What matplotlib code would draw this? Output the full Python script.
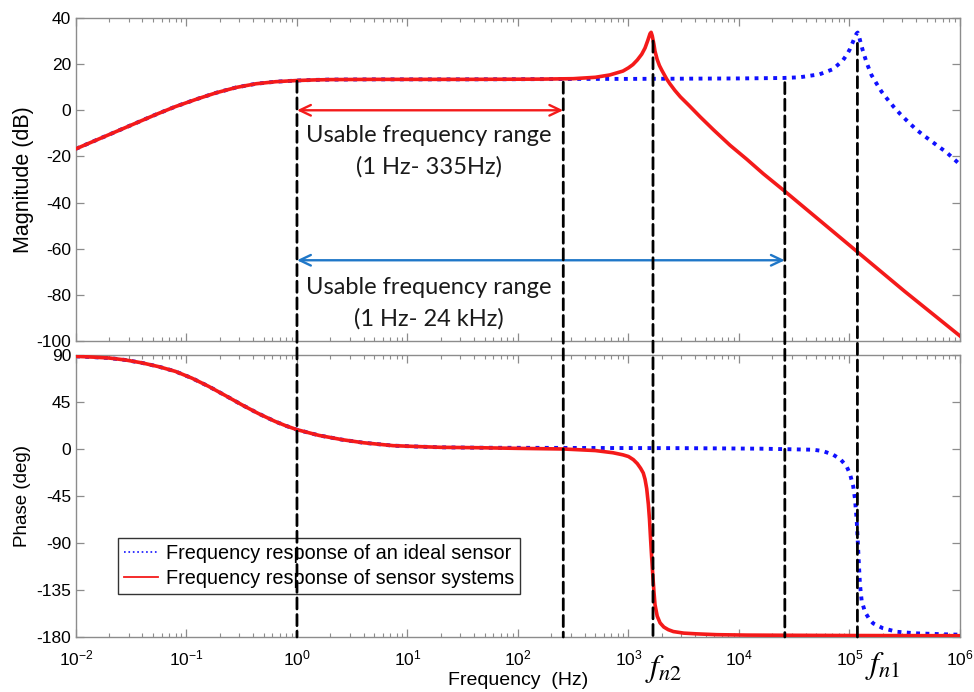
import numpy as np
import matplotlib
matplotlib.use("Agg")
import matplotlib.pyplot as plt
import matplotlib.ticker as mticker
from matplotlib.lines import Line2D
from matplotlib.patches import ConnectionPatch

# ---------------- data ----------------
# log10(frequency in Hz) sample points and values
low_logf = [-2.0, -1.82, -1.64, -1.46, -1.28, -1.10, -0.91, -0.73, -0.55, -0.37,
            -0.19, 0.0, 0.15, 0.3, 0.7, 1.5, 2.2]
low_db = [-16.7, -13.0, -9.3, -5.6, -1.9, 1.6, 4.8, 7.6, 9.9, 11.5,
          12.4, 12.9, 13.15, 13.3, 13.4, 13.4, 13.5]

mag_sensor_logf = low_logf + [2.5, 2.7, 2.83, 2.95, 3.0, 3.04, 3.08, 3.12, 3.15, 3.175,
                              3.195, 3.205, 3.215, 3.23, 3.24, 3.26, 3.28, 3.30, 3.345,
                              3.376, 3.42, 3.47, 3.55, 3.65, 3.77, 3.92, 4.07, 4.22,
                              4.42, 4.75, 5.07, 5.5, 6.0]
mag_sensor_db = low_db + [13.7, 14.3, 15.3, 17.0, 18.4, 19.8, 21.8, 24.3, 27.0, 30.3,
                          33.2, 33.8, 32.3, 28.6, 25.6, 22.0, 19.4, 17.5, 13.6,
                          11.4, 8.6, 5.8, 2.0, -2.9, -8.5, -15.2, -21.2, -27.5,
                          -35.3, -48.5, -61.3, -78.5, -97.8]

mag_ideal_logf = low_logf + [2.6, 3.0, 3.5, 4.0, 4.4, 4.55, 4.73, 4.85, 4.94, 4.98,
                             5.005, 5.03, 5.05, 5.065, 5.074, 5.085, 5.1, 5.12, 5.156,
                             5.2, 5.246, 5.29, 5.337, 5.4, 5.457, 5.53, 5.608, 5.68,
                             5.758, 5.88, 6.0]
mag_ideal_db = low_db + [13.6, 13.6, 13.7, 13.8, 14.0, 14.3, 15.6, 17.8, 21.6, 24.4,
                         26.6, 29.5, 31.9, 33.3, 33.7, 32.3, 29.5, 26.0, 20.5,
                         15.2, 11.5, 8.1, 5.2, 1.5, -1.5, -5.0, -8.5, -11.2,
                         -14.0, -18.3, -23.5]

low_ph_logf = [-2.0, -1.85, -1.7, -1.55, -1.4, -1.25, -1.1, -0.95, -0.8, -0.65, -0.5,
               -0.35, -0.2, -0.1, 0.0, 0.2, 0.41, 0.6, 0.87, 1.1, 1.3, 1.66]
low_ph_deg = [88.7, 88.0, 87.1, 85.2, 82.4, 78.8, 74.3, 67.8, 60.0, 51.3, 42.4,
              34.0, 26.5, 22.2, 18.5, 13.0, 8.9, 6.0, 3.2, 2.3, 1.6, 1.2]

ph_sensor_logf = low_ph_logf + [2.0, 2.41, 2.7, 2.86, 2.95, 3.0, 3.044, 3.08, 3.11, 3.134,
                                3.15, 3.165, 3.18, 3.19, 3.2, 3.21, 3.219, 3.23, 3.24,
                                3.26, 3.286, 3.32, 3.36, 3.406, 3.5, 3.617, 3.8, 4.07,
                                5.0, 6.0]
ph_sensor_deg = low_ph_deg + [0.6, 0.0, -1.5, -3.6, -5.6, -7.2, -10.2, -14.0, -18.5, -23.0,
                              -29.0, -38.0, -53.0, -67.0, -86.0, -104.0, -119.0, -136.0, -149.0,
                              -160.0, -166.5, -170.5, -173.0, -174.8, -176.3, -177.0, -177.8, -178.2,
                              -178.6, -178.8]

ph_ideal_logf = low_ph_logf + [2.5, 3.5, 4.2, 4.673, 4.76, 4.853, 4.92, 4.974, 5.005,
                               5.034, 5.05, 5.065, 5.075, 5.085, 5.095, 5.11, 5.14, 5.18,
                               5.215, 5.3, 5.426, 5.6, 5.878, 6.0]
ph_ideal_deg = low_ph_deg + [1.0, 0.8, 0.3, -0.7, -2.0, -5.5, -10.0, -16.6, -24.0,
                             -35.8, -48.0, -67.7, -88.0, -110.0, -130.0, -145.0, -156.0, -163.0,
                             -167.0, -171.5, -175.0, -176.5, -177.5, -177.8]

# vertical marker lines (Hz) and the magnitude where each starts
marker_freqs = [1.0, 257.0, 1667.0, 26000.0, 118000.0]
marker_top_db = [12.6, 12.2, 30.0, 12.0, 29.0]

mag_ticks = [40, 20, 0, -20, -40, -60, -80, -100]
ph_ticks = [90, 45, 0, -45, -90, -135, -180]
freq_ticks = [1e-2, 1e-1, 1e0, 1e1, 1e2, 1e3, 1e4, 1e5, 1e6]

legend_labels = ["Frequency response of an ideal sensor",
                 "Frequency response of sensor systems"]
range_texts = [("Usable frequency range", "(1 Hz- 335Hz)"),
               ("Usable frequency range", "(1 Hz- 24 kHz)")]

# ---------------- styling ----------------
plt.rcParams['font.family'] = ['Liberation Sans', 'DejaVu Sans']
plt.rcParams['axes.unicode_minus'] = False
plt.rcParams['mathtext.fontset'] = 'custom'
plt.rcParams['mathtext.rm'] = 'Liberation Sans'
plt.rcParams['mathtext.it'] = 'Liberation Sans:italic'

RED = '#f41a1a'
BLUE = '#1010ff'
ARROW_BLUE = '#1f77c8'
SPINE = '#8c8c8c'

fig = plt.figure(figsize=(9.74, 6.92), dpi=100)
ax1 = fig.add_axes([0.078, 0.5072, 0.9076, 0.4668])
ax2 = fig.add_axes([0.078, 0.0795, 0.9076, 0.4075])

def f(lst):
    return 10.0 ** np.array(lst)

ax1.plot(f(mag_ideal_logf), mag_ideal_db, color=BLUE, ls=(0, (1, 1.4)), lw=2.8, zorder=2)
ax1.plot(f(mag_sensor_logf), mag_sensor_db, color=RED, ls='-', lw=2.6, zorder=3)
ax2.plot(f(ph_ideal_logf), ph_ideal_deg, color=BLUE, ls=(0, (1, 1.4)), lw=2.8, zorder=2)
ax2.plot(f(ph_sensor_logf), ph_sensor_deg, color=RED, ls='-', lw=2.6, zorder=3)

for ax in (ax1, ax2):
    ax.set_xscale('log')
    ax.set_xlim(1e-2, 1e6)
    for s in ax.spines.values():
        s.set_color(SPINE)
        s.set_linewidth(1.0)
    ax.set_xticks(freq_ticks)
    ax.xaxis.set_minor_locator(mticker.LogLocator(base=10, subs=np.arange(2, 10), numticks=100))
    ax.xaxis.set_minor_formatter(mticker.NullFormatter())
    ax.tick_params(which='both', direction='in', top=True, right=True,
                   color=SPINE, labelsize=12.5, labelcolor='black')
    ax.tick_params(which='major', length=6, width=0.9)
    ax.tick_params(which='minor', length=3, width=0.8)

ax1.set_ylim(-100, 40)
ax1.set_yticks(mag_ticks)
ax1.tick_params(labelbottom=False)
ax1.set_ylabel('Magnitude (dB)', fontsize=15.5, labelpad=2)

ax2.set_ylim(-180, 90)
ax2.set_yticks(ph_ticks)
ax2.xaxis.set_major_formatter(mticker.LogFormatterSciNotation())
ax2.tick_params(axis='x', which='major', pad=8)
ax2.set_ylabel('Phase (deg)', fontsize=13.5, labelpad=4)
ax2.set_xlabel('Frequency  (Hz)', fontsize=14, labelpad=3)

# vertical dashed marker lines across both axes
for fx, ytop in zip(marker_freqs, marker_top_db):
    con = ConnectionPatch(xyA=(fx, ytop), coordsA='data', axesA=ax1,
                          xyB=(fx, -180), coordsB='data', axesB=ax2,
                          color='black', lw=2.0, linestyle=(0, (4, 2)), zorder=5)
    fig.add_artist(con)

# arrows
ax1.annotate('', xy=(marker_freqs[0], 0), xytext=(marker_freqs[1], 0),
             arrowprops=dict(arrowstyle='<->,head_length=0.8,head_width=0.38',
                             color=RED, lw=1.7, shrinkA=0, shrinkB=0), zorder=6)
ax1.annotate('', xy=(marker_freqs[0], -65), xytext=(marker_freqs[3], -65),
             arrowprops=dict(arrowstyle='<->,head_length=0.8,head_width=0.38',
                             color=ARROW_BLUE, lw=1.7, shrinkA=0, shrinkB=0), zorder=6)

txt_x = 10 ** 1.195
tfont = dict(family=['Lato', 'DejaVu Sans'], fontsize=17, color='#1a1a1a',
             ha='center', va='center')
ax1.text(txt_x, -10.8, range_texts[0][0], **tfont)
ax1.text(txt_x, -24.7, range_texts[0][1], **tfont)
ax1.text(txt_x, -76.7, range_texts[1][0], **tfont)
ax1.text(txt_x, -90.2, range_texts[1][1], **tfont)

# f_n labels
fig.text(645 / 974, 1 - 669 / 692, r'$\mathit{f}_{\mathit{n}2}$', fontsize=23,
         math_fontfamily='stix', ha='left', va='center')
fig.text(865 / 974, 1 - 666 / 692, r'$\mathit{f}_{\mathit{n}1}$', fontsize=23,
         math_fontfamily='stix', ha='left', va='center')

# legend
handles = [Line2D([], [], color=BLUE, ls=':', lw=1.2),
           Line2D([], [], color=RED, ls='-', lw=1.3)]
leg = ax2.legend(handles, legend_labels, loc='lower left',
                 bbox_to_anchor=(0.0475, 0.152), borderaxespad=0, fontsize=14.3,
                 fancybox=False, framealpha=1, edgecolor='#333333',
                 handlelength=1.7, handletextpad=0.4, borderpad=0.3,
                 labelspacing=0.3)
leg.get_frame().set_linewidth(1.0)

fig.savefig('out.png', dpi=100)
